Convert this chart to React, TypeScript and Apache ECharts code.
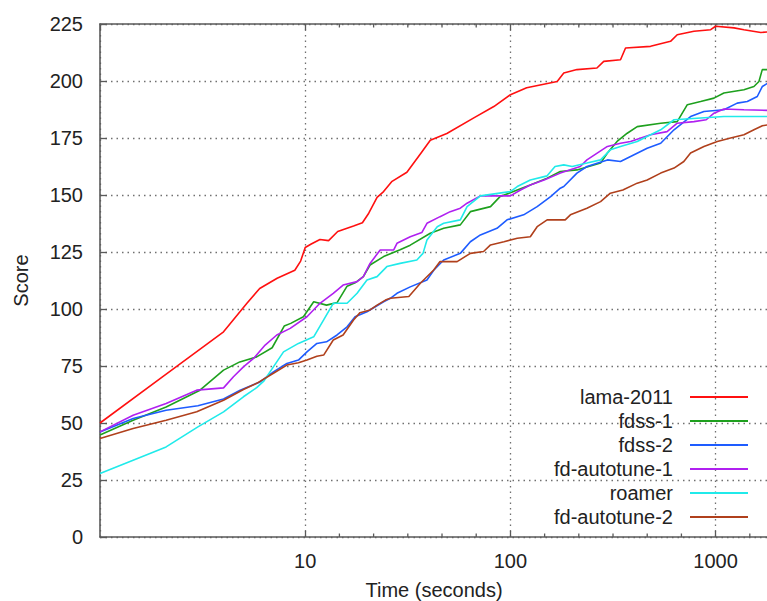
import React, { useEffect, useRef } from "react";
import * as echarts from "echarts";

const seriesNames = ["lama-2011", "fdss-1", "fdss-2", "fd-autotune-1", "roamer", "fd-autotune-2"];
const seriesColors = ["#ff1010", "#1ea01e", "#1e5cff", "#b020f0", "#20eaea", "#b0401c"];

const lama2011 = [
  [1, 50], [2, 70], [4, 90], [5.2, 102.5], [6, 109], [7.3, 113.5], [8.9, 117], [9.5, 121], [10, 127],
  [10.7, 128.5], [11.8, 130.5], [13, 130], [14.4, 134], [17.2, 136.4], [19, 137.8], [20.4, 142],
  [22.4, 149], [24.1, 151.5], [26.5, 156], [31.3, 160], [36.4, 168], [40.7, 174], [49, 177],
  [66, 183.7], [83, 188.8], [100, 194], [120, 197], [169, 199.8], [182, 203.5], [211, 205],
  [264, 205.7], [285, 208.6], [344, 209.3], [364, 214.5], [482, 215.2], [603, 217.4], [650, 220.3],
  [784, 221.8], [946, 222.5], [1000, 224], [1230, 223.3], [1374, 222.5], [1660, 221.3], [1800, 221.5],
];
const fdss1 = [
  [1, 44.7], [1.45, 51.2], [2.1, 57], [3.07, 64.4], [4, 73.2], [4.8, 76.8], [5.8, 79], [6.9, 83],
  [7.9, 92.5], [8.5, 93.7], [9.8, 96.6], [11, 103.2], [12.7, 101.7], [14.3, 102.8], [16, 110],
  [17.5, 111.5], [19.2, 114.2], [20.7, 119.3], [24.1, 123], [29, 126], [32.5, 128], [40.7, 133.2],
  [47.3, 135.4], [57, 136.9], [63.8, 142.7], [80, 144.9], [89, 149.3], [108, 152.2], [125, 154.4],
  [151, 157.4], [175, 160.3], [211, 161], [275, 164], [297, 168.4], [331, 173.5], [371, 177.1],
  [415, 180], [540, 181.5], [650, 182.2], [728, 189.6], [845, 191], [982, 192.5], [1097, 194.7],
  [1374, 196.2], [1537, 197.6], [1626, 199.8], [1688, 205], [1800, 205],
];
const fdss2 = [
  [1, 46.1], [1.45, 52], [2.1, 55.6], [3, 57.6], [4, 60.5], [4.82, 64.4], [6.03, 68], [7, 72.4],
  [8.14, 76.1], [9.27, 77.6], [10.2, 81.2], [11.4, 84.9], [12.7, 85.6], [14.3, 88.6], [16, 92.2],
  [17.5, 96.6], [20, 98.8], [24.1, 103.2], [26, 104.7], [28, 106.9], [32.5, 109.7], [39.2, 112.7],
  [42.3, 117], [47.3, 121.5], [57, 124.4], [63.8, 129.5], [71.4, 132.5], [86, 135.4], [96.3, 139.1],
  [116, 141.3], [135, 144.9], [157, 149.3], [175, 153], [182, 153.7], [211, 159.6], [236, 162.5],
  [297, 165.4], [344, 164.7], [385, 166.9], [464, 170.5], [540, 172.7], [627, 178.6], [755, 184.4],
  [877, 186.6], [1097, 187.4], [1274, 190.3], [1427, 191], [1596, 193.2], [1690, 197.6], [1800, 199.1],
];
const fdAutotune1 = [
  [1, 46.1], [1.45, 53.4], [2.1, 58.6], [2.96, 64.4], [4, 65.4], [4.47, 70.3], [5, 74.6],
  [5.6, 78.3], [6.38, 84.2], [7.27, 88.6], [8.45, 91.5], [10.2, 96.6], [11.8, 102.5], [13.7, 106.9],
  [15.3, 110.5], [17.9, 112], [19.2, 114.2], [20.7, 120], [23.2, 125.9], [27, 125.9], [28, 128.8],
  [32.5, 131.7], [37, 133.5], [39.2, 137.6], [45.4, 140.5], [50.9, 142.7], [57, 144.2], [61.5, 146.4],
  [71.4, 149.6], [100, 149.6], [112, 152.2], [125, 154.4], [146, 156.6], [175, 159.6], [219, 162.5],
  [236, 165.4], [297, 171.3], [344, 172.7], [385, 173.5], [482, 176.4], [580, 177.8], [650, 181.5],
  [784, 182.2], [900, 183], [982, 185.9], [1097, 187.7], [1374, 187.4], [1800, 187.1],
];
const roamer = [
  [1, 27.8], [1.45, 33.7], [2.1, 39.5], [3, 48.3], [4, 54.9], [5, 61.5], [5.8, 65.5], [6.3, 68.5],
  [7, 74.6], [7.84, 81.2], [9.27, 84.9], [11, 87.8], [12.3, 95.2], [13.7, 102.5], [16, 102.5],
  [17.9, 106.9], [20, 112.7], [22.4, 114.2], [25, 118.6], [29, 120], [35, 121.5], [37.5, 124.4],
  [39.2, 130.3], [44, 136.1], [47.3, 137.6], [57, 139.1], [61.5, 144.9], [71.4, 149.6], [100, 151.5],
  [108, 153.7], [125, 156.6], [151, 158.4], [165, 162.5], [182, 163.2], [200, 162.5], [236, 164],
  [275, 165.4], [307, 169.8], [344, 171.3], [415, 173.5], [482, 176.4], [540, 178.6], [627, 183],
  [1097, 184.4], [1800, 184.4],
];
const fdAutotune2 = [
  [1, 43.2], [1.45, 47.6], [2.1, 51.2], [2.96, 54.9], [4, 60], [5, 64.7], [5.8, 67.4], [7, 71.8],
  [8.14, 75.4], [9.27, 76.4], [10.2, 77.6], [11.4, 79.3], [12.3, 79.8], [13.7, 86.4], [15.3, 88.6],
  [17.2, 95.2], [18.5, 98.4], [20.7, 99.6], [22.4, 101.7], [24.6, 103.9], [26, 104.7], [32, 105.5],
  [36.4, 111.3], [42.3, 117.1], [45.4, 120.8], [55, 120.8], [63.8, 124.4], [74, 125.2], [80, 128.1],
  [93, 129.5], [108, 131], [125, 131.7], [135, 136.1], [151, 139.1], [185, 139.1], [196, 141.3],
  [236, 144.2], [275, 147.1], [307, 150.8], [353, 152.2], [415, 155.2], [464, 156.6], [540, 159.6],
  [627, 161.8], [700, 164.7], [755, 168.4], [877, 171.3], [1019, 173.5], [1183, 175], [1374, 176.4],
  [1537, 178.6], [1690, 180.4], [1800, 180.8],
];
const seriesData = [lama2011, fdss1, fdss2, fdAutotune1, roamer, fdAutotune2];

const xMin = 1;
const xMax = 1800;
const yMin = 0;
const yMax = 225;
const yInterval = 25;
const xMinorDecades = [1, 2, 3];
const xMinorPerDecade = 6;

const FONT = '"Liberation Sans", Arial, sans-serif';
const TEXT = "#222";
const FRAME = "#5a5a5a";
const GRIDC = "#707070";

export default function App() {
  const ref = useRef<HTMLDivElement>(null);
  useEffect(() => {
    if (!ref.current) return;
    const chart = echarts.init(ref.current, null, { renderer: "svg" });
    const axisLabelStyle = { color: TEXT, fontSize: 20, fontFamily: FONT };
    chart.setOption({
      animation: false,
      backgroundColor: "#fff",
      grid: { left: 100, top: 24, bottom: 64, right: -1, containLabel: false, outerBoundsMode: "none" },
      legend: {
        orient: "vertical",
        right: 19,
        top: 387,
        align: "right",
        padding: 0,
        itemGap: 4,
        itemWidth: 58,
        itemHeight: 2,
        icon: "rect",
        data: seriesNames,
        formatter: (n: string) => `{n|${n}}`,
        textStyle: {
          color: TEXT,
          fontSize: 20,
          fontFamily: FONT,
          rich: {
            n: { width: 170, align: "right", fontSize: 20, lineHeight: 20, fontFamily: FONT, color: TEXT, padding: [0, 12, 0, 0] },
          },
        },
      },
      xAxis: [
        {
          type: "log",
          logBase: 10,
          min: xMin,
          max: xMax,
          interval: 1,
          name: "Time (seconds)",
          nameLocation: "middle",
          nameGap: 43,
          nameTextStyle: axisLabelStyle,
          axisLine: { show: true, lineStyle: { color: FRAME, width: 1.6 } },
          axisTick: { show: true, inside: true, length: 6, lineStyle: { color: FRAME, width: 1.3 } },
          minorTick: { show: false },
          axisLabel: {
            ...axisLabelStyle,
            margin: 14,
            showMinLabel: false,
            showMaxLabel: false,
            formatter: (v: number) => (v < 5 ? "" : String(Math.round(v))),
          },
          splitLine: { show: true, lineStyle: { color: GRIDC, type: [1.5, 4], width: 1.3 } },
        },
        {
          type: "log",
          logBase: 10,
          min: xMin,
          max: xMax,
          interval: 1,
          position: "top",
          axisLine: { show: true, lineStyle: { color: FRAME, width: 1.6 } },
          axisTick: { show: true, inside: true, length: 6, lineStyle: { color: FRAME, width: 1.3 } },
          axisLabel: { show: false },
          splitLine: { show: false },
        },
      ],
      yAxis: {
        type: "value",
        min: yMin,
        max: yMax,
        interval: yInterval,
        name: "Score",
        nameLocation: "middle",
        nameGap: 69,
        nameTextStyle: axisLabelStyle,
        axisLine: { show: true, lineStyle: { color: FRAME, width: 1.6 } },
        axisTick: { show: true, inside: true, length: 7, lineStyle: { color: FRAME, width: 1.3 } },
        axisLabel: { ...axisLabelStyle, margin: 17 },
        splitLine: { show: true, lineStyle: { color: GRIDC, type: [1.5, 4], width: 1.3 } },
      },
      series: seriesNames.map((name, i) => ({
        name,
        type: "line",
        xAxisIndex: 0,
        data: seriesData[i],
        showSymbol: false,
        symbol: "none",
        lineStyle: { color: seriesColors[i], width: 1.6 },
        itemStyle: { color: seriesColors[i] },
        z: 2 + i,
      })),
    });

    // minor ticks, evenly spaced in log space, as in the reference
    const yBottom = chart.convertToPixel({ yAxisIndex: 0 }, yMin) as number;
    const yTop = chart.convertToPixel({ yAxisIndex: 0 }, yMax) as number;
    const lines: any[] = [];
    xMinorDecades.forEach((d) => {
      for (let k = 1; k < xMinorPerDecade; k++) {
        const t = Math.pow(10, d + k / xMinorPerDecade);
        if (t >= xMax) continue;
        const x = chart.convertToPixel({ xAxisIndex: 0 }, t) as number;
        lines.push({ type: "line", shape: { x1: x, y1: yBottom, x2: x, y2: yBottom - 3.5 }, style: { stroke: FRAME, lineWidth: 1.3 }, silent: true });
        lines.push({ type: "line", shape: { x1: x, y1: yTop, x2: x, y2: yTop + 3.5 }, style: { stroke: FRAME, lineWidth: 1.3 }, silent: true });
      }
    });
    chart.setOption({ graphic: lines });

    return () => chart.dispose();
  }, []);
  return <div ref={ref} style={{ position: "fixed", left: 0, top: 0, width: 767, height: 601 }} />;
}
